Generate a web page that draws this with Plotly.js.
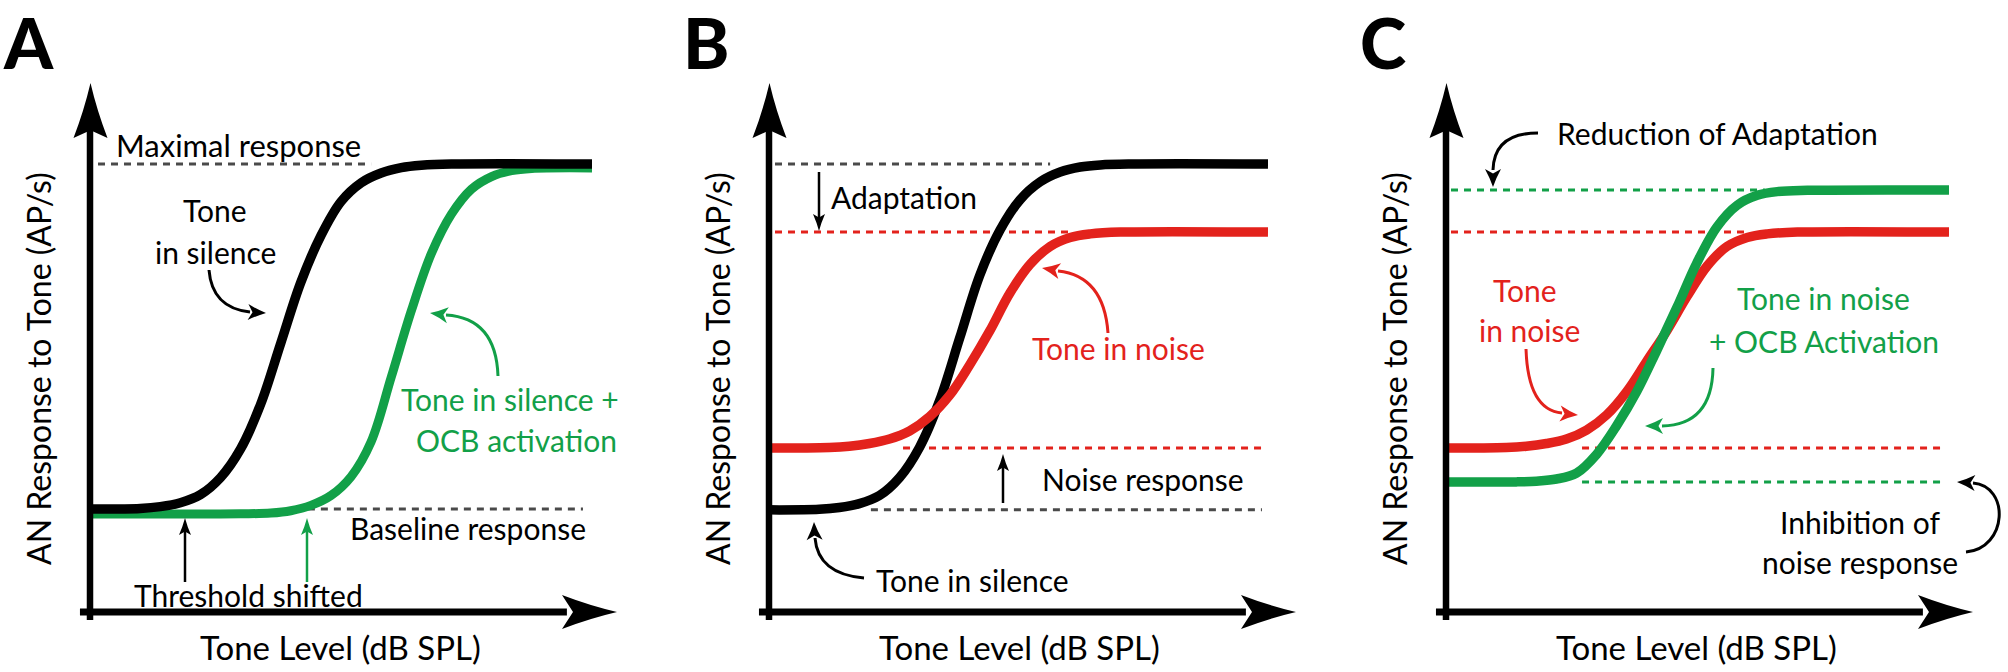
<!DOCTYPE html>
<html><head><meta charset="utf-8">
<script src="https://cdn.plot.ly/plotly-3.0.1.min.js"></script>
<style>html,body{margin:0;padding:0;background:#fff;}#chart{width:2008px;height:672px;}</style>
</head><body><div id="chart"></div>
<script>
// ===== DATA (x: tone level, dB SPL; y: AN response, AP/s) =====
// Panel A
const silA_x = [0, 10, 14, 18, 22, 26, 30, 34, 38, 42, 46, 50, 54, 58, 62, 66, 72, 100];
const silA_y = [57.5, 57.8, 58.8, 61, 65.5, 75, 91, 116, 150, 184, 210, 229, 239.5, 245, 248, 249.3, 250, 250];
const ocbA_x = [0, 30, 36, 40, 44, 48, 52, 56, 60, 64, 68, 72, 76, 80, 84, 88, 100];
const ocbA_y = [54.7, 54.8, 55.2, 56.5, 59.5, 65, 75.5, 95, 131, 168, 200, 222, 236, 243, 246.3, 247.5, 247.8];
// Panel B
const silB_x = [0, 10, 14, 18, 22, 26, 30, 34, 38, 42, 46, 50, 54, 58, 62, 66, 72, 99.4];
const silB_y = [57, 57.3, 58.3, 60.5, 65, 75, 92, 118, 153, 188, 213, 230, 240, 245.5, 248.3, 249.5, 250, 250];
const noiB_x = [0, 12, 16, 20, 24, 28, 32, 36, 40, 44, 48, 52, 56, 60, 64, 70, 99.4];
const noiB_y = [91.5, 91.8, 92.5, 94, 96.5, 101, 109, 121, 138, 157, 178, 194, 204, 209, 211, 212, 212];
// Panel C
const noiC_x = [0, 12, 16, 20, 24, 28, 32, 36, 40, 44, 48, 52, 56, 60, 64, 70, 100.2];
const noiC_y = [91.5, 91.8, 92.5, 94, 96.5, 101.5, 110, 123, 140, 157, 176, 193, 204, 209, 211, 212, 212];
const ocbC_x = [0, 14, 18, 22, 26, 30, 34, 38, 42, 46, 50, 54, 58, 62, 66, 72, 100.2];
const ocbC_y = [72.5, 72.6, 73, 74.2, 77.5, 88, 104, 123, 146, 170, 195, 215, 227, 232.5, 234.6, 235.3, 235.5];
// Reference levels (dashed): level, start, end
const refA_lvl = [250, 57.5];              const refA_x0 = [1.6, 43.4];             const refA_x1 = [56, 98.2];
const refB_lvl = [250, 212, 91.5, 57];     const refB_x0 = [1.2, 1.2, 26.7, 20.3];  const refB_x1 = [56, 60.4, 98.2, 98.2];
const refC_lvl = [235.5, 212, 91.5, 72.5]; const refC_x0 = [1, 1, 27.1, 27.1];      const refC_x1 = [63.5, 60.2, 98.6, 98.6];

// ===== STYLE / GEOMETRY =====
const W = 2008, H = 672;
const AXX = [90, 769, 1446];      // pixel x of each panel's y axis
const AXY = 612;                  // pixel y of the x axis
const PPX = 5.02, PPY = 1.792;    // pixels per dB, per AP/s
const XR = [-4, 110], YR = [-8, 300];
const BLACK = '#000000', GREEN = '#12a048', RED = '#e3221c', GREY = '#4a4a4a';
const FONT = 'Lato, "Open Sans", sans-serif';

const traces = [];
function curve(xs, ys, i, color, width) {
  traces.push({type: 'scatter', mode: 'lines', x: xs, y: ys, xaxis: 'x' + (i ? i + 1 : ''), yaxis: 'y' + (i ? i + 1 : ''),
    line: {color: color, width: width, shape: 'spline', smoothing: 1}, hoverinfo: 'skip', cliponaxis: false});
}
function refs(lv, x0, x1, colors, i) {
  for (let k = 0; k < lv.length; k++) {
    traces.push({type: 'scatter', mode: 'lines', x: [x0[k], x1[k]], y: [lv[k], lv[k]],
      xaxis: 'x' + (i ? i + 1 : ''), yaxis: 'y' + (i ? i + 1 : ''),
      line: {color: colors[k], width: 3, dash: '7px,6px'}, hoverinfo: 'skip', cliponaxis: false});
  }
}
refs(refA_lvl, refA_x0, refA_x1, [GREY, GREY], 0);
curve(ocbA_x, ocbA_y, 0, GREEN, 9);
curve(silA_x, silA_y, 0, BLACK, 9.5);
refs(refB_lvl, refB_x0, refB_x1, [GREY, RED, RED, GREY], 1);
curve(silB_x, silB_y, 1, BLACK, 9.5);
curve(noiB_x, noiB_y, 1, RED, 9.5);
refs(refC_lvl, refC_x0, refC_x1, [GREEN, RED, RED, GREEN], 2);
curve(noiC_x, noiC_y, 2, RED, 9.5);
curve(ocbC_x, ocbC_y, 2, GREEN, 9.5);

const layout = {width: W, height: H, margin: {l: 0, r: 0, t: 0, b: 0}, paper_bgcolor: '#fff', plot_bgcolor: 'rgba(0,0,0,0)',
  showlegend: false, shapes: [], annotations: []};
for (let i = 0; i < 3; i++) {
  const s = i ? i + 1 : '';
  layout['xaxis' + s] = {domain: [(AXX[i] + XR[0] * PPX) / W, (AXX[i] + XR[1] * PPX) / W], range: XR, visible: false, fixedrange: true, anchor: 'y' + s};
  layout['yaxis' + s] = {domain: [1 - (AXY - YR[0] * PPY) / H, 1 - (AXY - YR[1] * PPY) / H], range: YR, visible: false, fixedrange: true, anchor: 'x' + s};
  // axis lines in data units
  layout.shapes.push({type: 'line', xref: 'x' + s, yref: 'y' + s, x0: 0, x1: 0, y0: -4.5, y1: 272, line: {color: BLACK, width: 6.5}});
  layout.shapes.push({type: 'line', xref: 'x' + s, yref: 'y' + s, x0: -2, x1: 95, y0: 0, y1: 0, line: {color: BLACK, width: 7}});
}
// pixel overlay for decorations
layout.xaxis4 = {domain: [0, 1], range: [0, W], visible: false, fixedrange: true, anchor: 'y4'};
layout.yaxis4 = {domain: [0, 1], range: [H, 0], visible: false, fixedrange: true, anchor: 'x4'};

function head(tx, ty, ang, len, hw, notch, color) {
  const a = ang * Math.PI / 180, ux = Math.cos(a), uy = Math.sin(a), px = -uy, py = ux;
  const bx = tx - ux * len, by = ty - uy * len;
  const c1 = [bx + px * hw, by + py * hw], c2 = [bx - px * hw, by - py * hw];
  const n = [tx - ux * len * notch, ty - uy * len * notch];
  const m1 = [(tx + c1[0]) / 2 - px * hw * 0.12, (ty + c1[1]) / 2 - py * hw * 0.12];
  const m2 = [(tx + c2[0]) / 2 + px * hw * 0.12, (ty + c2[1]) / 2 + py * hw * 0.12];
  const f = v => v.toFixed(2);
  const d = `M${f(tx)},${f(ty)} Q${f(m1[0])},${f(m1[1])} ${f(c1[0])},${f(c1[1])} L${f(n[0])},${f(n[1])} L${f(c2[0])},${f(c2[1])} Q${f(m2[0])},${f(m2[1])} ${f(tx)},${f(ty)} Z`;
  layout.shapes.push({type: 'path', xref: 'x4', yref: 'y4', path: d, fillcolor: color, line: {width: 0}});
}
function stroke(d, color, w) {
  layout.shapes.push({type: 'path', xref: 'x4', yref: 'y4', path: d, fillcolor: 'rgba(0,0,0,0)', line: {color: color, width: w || 3}});
}
function text(t, x, y, color, size, opts) {
  layout.annotations.push(Object.assign({text: t, x: x, y: y, xref: 'x4', yref: 'y4', showarrow: false,
    xanchor: 'center', yanchor: 'middle', font: {family: FONT, size: size || 30, color: color || BLACK}}, opts || {}));
}
// axis arrow heads and titles
for (let i = 0; i < 3; i++) {
  head(AXX[i] + 0.5, 83, -90, 55, 17, 0.86, BLACK);
  head(AXX[i] + 527, AXY, 0, 55, 17, 0.8, BLACK);
  text('Tone Level (dB SPL)', AXX[i] + 250, 647, BLACK, 33);
  text('AN Response to Tone (AP/s)', AXX[i] - 52, 369, BLACK, 32, {textangle: -90});
}
// panel letters
const LETTER = {family: FONT, size: 70, color: BLACK, weight: 900};
layout.annotations.push({text: 'A', x: 28, y: 42, xref: 'x4', yref: 'y4', showarrow: false, xanchor: 'center', yanchor: 'middle', font: LETTER});
layout.annotations.push({text: 'B', x: 706, y: 42, xref: 'x4', yref: 'y4', showarrow: false, xanchor: 'center', yanchor: 'middle', font: LETTER});
layout.annotations.push({text: 'C', x: 1383, y: 42, xref: 'x4', yref: 'y4', showarrow: false, xanchor: 'center', yanchor: 'middle', font: LETTER});

// ---- Panel A annotations ----
text('Maximal response', 238, 145, BLACK, 31);
text('Tone', 215, 210);
text('in silence', 215, 252);
stroke('M209,270 Q212,308 250,312', BLACK);
head(266, 313, 3, 18, 8, 0.75, BLACK);
text('Tone in silence +', 510, 399, GREEN);
text('OCB activation', 516, 440, GREEN);
stroke('M498,376 Q496,318 446,315', GREEN);
head(430, 313, 187, 18, 8, 0.75, GREEN);
text('Baseline response', 468, 528);
text('Threshold shifted', 248, 595);
stroke('M185,582 L185,530', BLACK, 2.5);
head(185, 518, -90, 17, 6, 0.8, BLACK);
stroke('M307,582 L307,530', GREEN, 2.5);
head(307, 518, -90, 17, 6, 0.8, GREEN);

// ---- Panel B annotations ----
text('Adaptation', 904, 197);
stroke('M819,172 L819,220', BLACK, 2.5);
head(819, 231, 90, 17, 6, 0.8, BLACK);
text('Tone in noise', 1118, 348, RED);
stroke('M1108,333 Q1104,276 1058,271', RED);
head(1042, 268, 190, 18, 8, 0.75, RED);
text('Noise response', 1143, 479);
stroke('M1003,503 L1003,466', BLACK, 2.5);
head(1003, 454, -90, 17, 6, 0.8, BLACK);
text('Tone in silence', 972, 580);
stroke('M864,578 Q818,574 815,538', BLACK);
head(814, 522, -92, 18, 8, 0.75, BLACK);

// ---- Panel C annotations ----
text('Reduction of Adaptation', 1717, 133);
stroke('M1538,133 Q1494,133 1493,170', BLACK);
head(1493, 187, 90, 18, 8, 0.75, BLACK);
text('Tone', 1525, 290, RED);
text('in noise', 1529, 330, RED);
stroke('M1526,349 Q1528,410 1562,413', RED);
head(1578, 415, 5, 18, 8, 0.75, RED);
text('Tone in noise', 1823, 298, GREEN);
text('+ OCB Activation', 1824, 341, GREEN);
stroke('M1713,368 Q1712,425 1662,426', GREEN);
head(1645, 426, 180, 18, 8, 0.75, GREEN);
text('Inhibition of', 1860, 522);
text('noise response', 1860, 562);
stroke('M1966,552 C2008,548 2010,486 1973,483', BLACK);
head(1957, 482, 183, 18, 8, 0.75, BLACK);

Plotly.newPlot('chart', traces, layout, {displayModeBar: false, staticPlot: true});
</script></body></html>
